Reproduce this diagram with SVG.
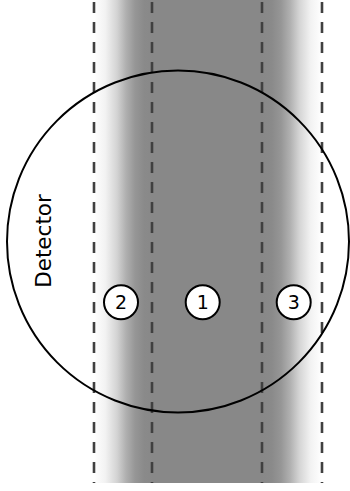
<svg xmlns="http://www.w3.org/2000/svg" width="350" height="491" viewBox="0 0 350 491">
<style>
.dash{stroke:#404040;stroke-width:2.6;stroke-dasharray:11 9;fill:none}
.lbl circle{fill:#fff;stroke:#000;stroke-width:2}
.lbl text{font-family:"DejaVu Sans",sans-serif;font-size:19px;text-anchor:middle;fill:#000}
</style>
<defs>
<linearGradient id="band" gradientUnits="userSpaceOnUse" x1="94" y1="0" x2="322" y2="0">
<stop offset="0" stop-color="#ffffff"/>
<stop offset="0.05" stop-color="#f2f2f2"/>
<stop offset="0.1" stop-color="#d4d4d4"/>
<stop offset="0.14" stop-color="#b0b0b0"/>
<stop offset="0.18" stop-color="#969696"/>
<stop offset="0.22" stop-color="#8a8a8a"/>
<stop offset="0.26" stop-color="#888888"/>
<stop offset="0.74" stop-color="#888888"/>
<stop offset="0.78" stop-color="#8a8a8a"/>
<stop offset="0.82" stop-color="#969696"/>
<stop offset="0.86" stop-color="#b0b0b0"/>
<stop offset="0.9" stop-color="#d4d4d4"/>
<stop offset="0.95" stop-color="#f2f2f2"/>
<stop offset="1" stop-color="#ffffff"/>
</linearGradient>
</defs>
<rect id="beam" x="94" y="0" width="228" height="483" fill="url(#band)"/>
<g id="connectors">
<line class="dash" x1="94" y1="2" x2="94" y2="483"/>
<line class="dash" x1="152" y1="2" x2="152" y2="483"/>
<line class="dash" x1="262" y1="2" x2="262" y2="483"/>
<line class="dash" x1="322" y1="2" x2="322" y2="483"/>
</g>
<g id="detector">
<circle cx="178" cy="241.5" r="171" fill="none" stroke="#000" stroke-width="2"/>
<text transform="translate(50.5,241) rotate(-90)" font-family="DejaVu Sans,sans-serif" font-size="21.5" text-anchor="middle" fill="#000">Detector</text>
</g>
<g id="n2" class="lbl"><circle cx="121" cy="302.3" r="17"/><text x="121" y="309.2">2</text></g>
<g id="n1" class="lbl"><circle cx="202.7" cy="302.3" r="17"/><text x="202.7" y="309.2">1</text></g>
<g id="n3" class="lbl"><circle cx="293.7" cy="302.3" r="17"/><text x="293.7" y="309.2">3</text></g>
</svg>
